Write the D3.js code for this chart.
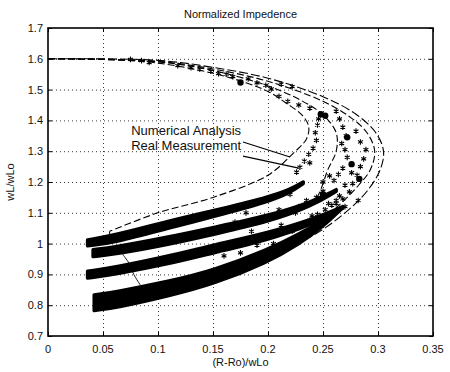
<!DOCTYPE html>
<html>
<head>
<meta charset="utf-8">
<script src="https://cdn.jsdelivr.net/npm/d3@7"></script>
<style>
  body { margin: 0; background: #fff; }
  svg text { font-family: "Liberation Sans", Arial, sans-serif; fill: #111; }
  .grid line { stroke: #222; stroke-dasharray: 1,3; stroke-width: 0.9; }
  .grid path { display: none; }
  .ticks path { display: none; }
  .ticks line { stroke: #000; }
</style>
</head>
<body>
<div id="chart"></div>
<script>
// tick values and labels
var xTicks = [0, 0.05, 0.1, 0.15, 0.2, 0.25, 0.3, 0.35];
var xTickLabels = ["0", "0.05", "0.1", "0.15", "0.2", "0.25", "0.3", "0.35"];
var yTicks = [0.7, 0.8, 0.9, 1.0, 1.1, 1.2, 1.3, 1.4, 1.5, 1.6, 1.7];
var yTickLabels = ["0.7", "0.8", "0.9", "1", "1.1", "1.2", "1.3", "1.4", "1.5", "1.6", "1.7"];

// numerical analysis curves [R-Ro/wLo, wL/wLo]
var num1 = [[0,1.6],[0.05,1.598],[0.1,1.586],[0.15,1.553],[0.18,1.522],[0.2,1.494],[0.217,1.455],[0.231,1.417],[0.237,1.38],[0.235,1.34],[0.222,1.29],[0.2,1.222],[0.15,1.15],[0.1,1.1],[0.056,1.04]];
var num1Tail = [[0.056,1.04],[0.056,1.03]];
var num2 = [[0,1.6],[0.1,1.59],[0.15,1.562],[0.2,1.512],[0.23,1.465],[0.25,1.418],[0.262,1.36],[0.262,1.3],[0.255,1.245],[0.24,1.13],[0.2,1.08],[0.15,1.041],[0.1,1.005],[0.06,0.977]];
var num3 = [[0,1.6],[0.1,1.592],[0.15,1.567],[0.2,1.527],[0.25,1.462],[0.275,1.41],[0.29,1.36],[0.297,1.3],[0.293,1.24],[0.28,1.18],[0.26,1.11],[0.235,1.04],[0.21,0.985],[0.2,0.958],[0.15,0.89],[0.1,0.852],[0.06,0.815]];
var num4 = [[0,1.6],[0.1,1.595],[0.15,1.572],[0.2,1.537],[0.25,1.477],[0.28,1.42],[0.298,1.36],[0.305,1.3],[0.302,1.24],[0.29,1.17],[0.27,1.1],[0.245,1.035],[0.215,0.98],[0.2,0.956],[0.15,0.89],[0.1,0.852],[0.06,0.815]];

// constant-parameter locus crossing the bands
var locus = [[0.066,0.975],[0.07,0.955],[0.074,0.935],[0.078,0.9],[0.084,0.865]];

// real measurement bands [x, low, high]
var band1 = [[0.036,0.993,1.012],[0.06,1.003,1.026],[0.111,1.052,1.075],[0.15,1.087,1.107],[0.2,1.135,1.15],[0.22,1.165,1.175],[0.232,1.195,1.2]];
var band2 = [[0.041,0.958,0.98],[0.06,0.965,0.988],[0.111,0.998,1.022],[0.15,1.03,1.052],[0.2,1.07,1.09],[0.24,1.122,1.135],[0.262,1.17,1.175]];
var band3 = [[0.036,0.888,0.91],[0.06,0.9,0.922],[0.111,0.935,0.96],[0.15,0.97,0.995],[0.2,1.012,1.035],[0.24,1.062,1.078],[0.268,1.115,1.12]];
var band4 = [[0.042,0.783,0.833],[0.06,0.79,0.842],[0.111,0.831,0.878],[0.15,0.868,0.912],[0.2,0.94,0.98],[0.228,0.998,1.03],[0.25,1.055,1.075],[0.266,1.11,1.115]];

// scattered measurement markers
var stars = [[0.075,1.598],[0.085,1.594],[0.092,1.588],[0.118,1.578],[0.13,1.571],[0.138,1.566],[0.148,1.56],[0.155,1.552],[0.162,1.55],[0.168,1.542],
  [0.182,1.535],[0.19,1.522],[0.198,1.514],[0.203,1.502],[0.212,1.518],[0.222,1.51],[0.21,1.478],[0.218,1.462],[0.228,1.45],[0.238,1.44],
  [0.246,1.405],[0.245,1.385],[0.243,1.36],[0.244,1.335],[0.241,1.31],[0.237,1.29],[0.233,1.268],[0.229,1.248],[0.238,1.262],[0.226,1.232],
  [0.262,1.43],[0.265,1.405],[0.268,1.378],[0.271,1.35],[0.267,1.325],[0.27,1.305],[0.272,1.28],[0.268,1.245],[0.264,1.225],[0.26,1.205],[0.27,1.19],
  [0.28,1.365],[0.284,1.33],[0.289,1.305],[0.287,1.275],[0.284,1.25],[0.281,1.222],[0.277,1.195],[0.274,1.168],[0.268,1.145],[0.262,1.13],
  [0.25,1.17],[0.244,1.15],[0.235,1.14],[0.252,1.11],[0.258,1.125],[0.27,1.12],[0.238,1.075],[0.25,1.2],[0.256,1.22],[0.276,1.23],
  [0.222,1.04],[0.232,1.06],[0.24,1.09],[0.255,1.13],[0.265,1.155],[0.212,1.06],[0.225,1.1],[0.19,0.995],[0.205,1.0],[0.175,0.97],
  [0.185,1.04],[0.228,1.12],[0.245,1.095],[0.262,1.14],[0.282,1.14],[0.16,0.96],[0.17,1.07],[0.18,1.1],[0.21,1.11],[0.22,1.16]];
var blobs = [[0.175,1.523],[0.248,1.42],[0.252,1.415],[0.276,1.258],[0.272,1.345],[0.283,1.21],[0.25,1.16]];

var width = 450, height = 372;
var x = d3.scaleLinear().domain([0, 0.35]).range([48, 433]);
var y = d3.scaleLinear().domain([0.7, 1.7]).range([336, 28]);

var svg = d3.select("#chart").append("svg")
  .attr("width", width)
  .attr("height", height);

// dotted grid
svg.append("g").attr("class", "grid")
  .attr("transform", "translate(0," + y(0.7) + ")")
  .call(d3.axisBottom(x).tickValues(xTicks.slice(1, -1)).tickSize(-(y(0.7) - y(1.7))).tickFormat(""));
svg.append("g").attr("class", "grid")
  .attr("transform", "translate(" + x(0) + ",0)")
  .call(d3.axisLeft(y).tickValues(yTicks.slice(1, -1)).tickSize(-(x(0.35) - x(0))).tickFormat(""));

// inward ticks on all four sides
svg.append("g").attr("class", "ticks")
  .attr("transform", "translate(0," + y(0.7) + ")")
  .call(d3.axisBottom(x).tickValues(xTicks).tickSize(-4).tickFormat(""));
svg.append("g").attr("class", "ticks")
  .attr("transform", "translate(0," + y(1.7) + ")")
  .call(d3.axisTop(x).tickValues(xTicks).tickSize(-4).tickFormat(""));
svg.append("g").attr("class", "ticks")
  .attr("transform", "translate(" + x(0) + ",0)")
  .call(d3.axisLeft(y).tickValues(yTicks).tickSize(-4).tickFormat(""));
svg.append("g").attr("class", "ticks")
  .attr("transform", "translate(" + x(0.35) + ",0)")
  .call(d3.axisRight(y).tickValues(yTicks).tickSize(-4).tickFormat(""));

// tick labels
svg.append("g").selectAll("text")
  .data(xTicks).enter().append("text")
  .attr("x", function(d){ return x(d); })
  .attr("y", y(0.7) + 17)
  .attr("text-anchor", "middle")
  .style("font-size", "11px")
  .text(function(d, i){ return xTickLabels[i]; });
svg.append("g").selectAll("text")
  .data(yTicks).enter().append("text")
  .attr("x", x(0) - 5)
  .attr("y", function(d){ return y(d) + 4; })
  .attr("text-anchor", "end")
  .style("font-size", "11px")
  .text(function(d, i){ return yTickLabels[i]; });

var line = d3.line()
  .x(function(d){ return x(d[0]); })
  .y(function(d){ return y(d[1]); })
  .curve(d3.curveCatmullRom.alpha(0.5));

// numerical analysis curves
[num1, num2, num3, num4].forEach(function(c, i){
  svg.append("path")
    .datum(c)
    .attr("d", line)
    .attr("fill", "none")
    .attr("stroke", "#000")
    .attr("stroke-width", 1.1)
    .attr("stroke-dasharray", i == 3 ? "9,3" : "7,3");
});
svg.append("path").datum(num1Tail).attr("d", d3.line().x(function(d){ return x(d[0]); }).y(function(d){ return y(d[1]); }))
  .attr("stroke", "#000").attr("fill", "none");
svg.append("path").datum(locus).attr("d", line)
  .attr("stroke", "#000").attr("fill", "none").attr("stroke-width", 0.9);

// measurement bands
var area = d3.area()
  .x(function(d){ return x(d[0]); })
  .y0(function(d){ return y(d[1]); })
  .y1(function(d){ return y(d[2]); })
  .curve(d3.curveBasis);
[band1, band2, band3, band4].forEach(function(b){
  svg.append("path")
    .datum(b)
    .attr("d", area)
    .attr("fill", "#000")
    .attr("stroke", "#000")
    .attr("stroke-width", 3.5)
    .attr("stroke-linejoin", "round");
});

// scattered markers
svg.append("g").selectAll("path")
  .data(stars).enter().append("path")
  .attr("transform", function(d){ return "translate(" + x(d[0]) + "," + y(d[1]) + ")"; })
  .attr("d", d3.symbol().type(d3.symbolAsterisk).size(22))
  .attr("fill", "none")
  .attr("stroke", "#000")
  .attr("stroke-width", 1.1);
svg.append("g").selectAll("circle")
  .data(blobs).enter().append("circle")
  .attr("cx", function(d){ return x(d[0]); })
  .attr("cy", function(d){ return y(d[1]); })
  .attr("r", 3.2)
  .attr("fill", "#000");

// axes box
svg.append("rect")
  .attr("x", x(0)).attr("y", y(1.7))
  .attr("width", x(0.35) - x(0)).attr("height", y(0.7) - y(1.7))
  .attr("fill", "none").attr("stroke", "#000").attr("stroke-width", 1.6);

// annotations
svg.append("text").attr("x", x(0.1755)).attr("y", y(1.3525)).attr("text-anchor", "end")
  .style("font-size", "13px").text("Numerical Analysis");
svg.append("text").attr("x", x(0.1755)).attr("y", y(1.3045)).attr("text-anchor", "end")
  .style("font-size", "13px").text("Real Measurement");
svg.append("line").attr("x1", x(0.1773)).attr("y1", y(1.33)).attr("x2", x(0.22)).attr("y2", y(1.281))
  .attr("stroke", "#000").attr("stroke-width", 1.1);
svg.append("line").attr("x1", x(0.1773)).attr("y1", y(1.284)).attr("x2", x(0.228)).attr("y2", y(1.245))
  .attr("stroke", "#000").attr("stroke-width", 1.1);

// titles
svg.append("text").attr("x", (x(0) + x(0.35)) / 2).attr("y", 18).attr("text-anchor", "middle")
  .style("font-size", "11px").text("Normalized Impedence");
svg.append("text").attr("x", (x(0) + x(0.35)) / 2).attr("y", 366).attr("text-anchor", "middle")
  .style("font-size", "11px").text("(R-Ro)/wLo");
svg.append("text").attr("transform", "translate(14," + ((y(0.7) + y(1.7)) / 2) + ") rotate(-90)")
  .attr("text-anchor", "middle").style("font-size", "11px").text("wL/wLo");
</script>
</body>
</html>
